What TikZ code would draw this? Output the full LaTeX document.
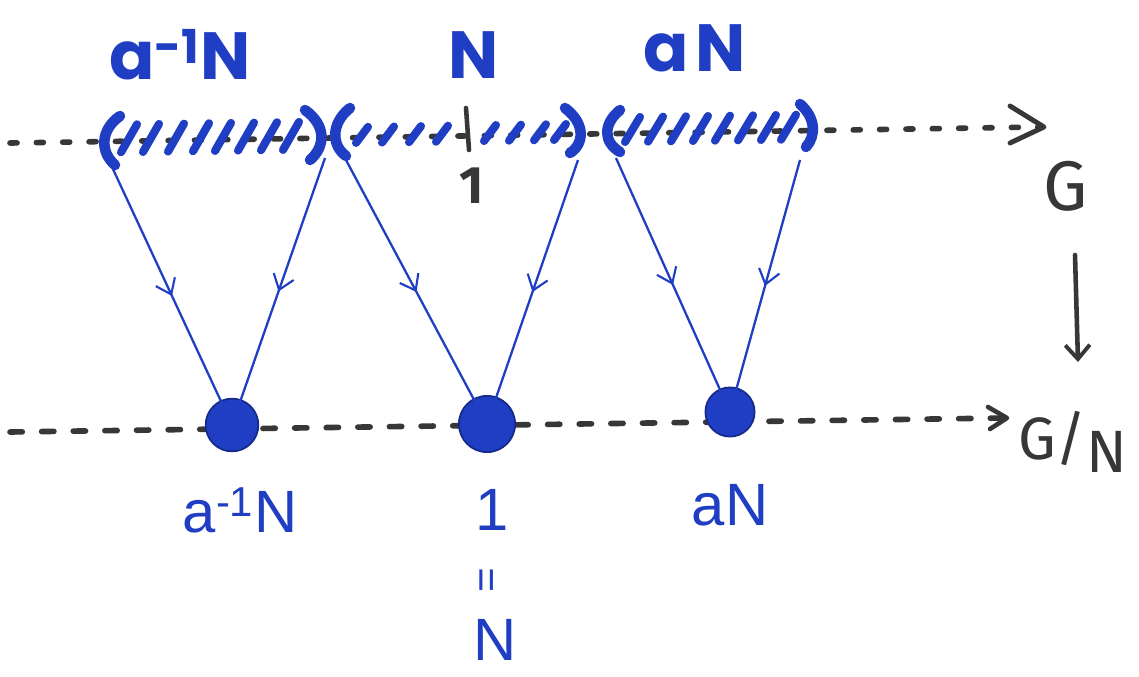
\documentclass[tikz,border=0pt]{standalone}
\usepackage{fontspec}
\setmainfont{Fira Sans}
\newfontfamily\topfont{Poppins}
\newfontfamily\thinfont{Liberation Sans}
\usetikzlibrary{arrows.meta,decorations.markings,calc}
\definecolor{pen}{RGB}{32,62,196}
\definecolor{ink}{RGB}{55,55,55}
\begin{document}
\begin{tikzpicture}[x=0.02cm,y=-0.02cm,
  toplab/.style={text=pen,font=\topfont\bfseries\fontsize{38}{40}\selectfont,inner sep=0pt},
  botlab/.style={text=pen,font=\thinfont\fontsize{34}{38}\selectfont,inner sep=0pt},
  blacklab/.style={text=ink,font=\fontsize{40}{44}\selectfont,inner sep=0pt},
  axis/.style={ink,line width=3.2pt,dash pattern=on 4pt off 11pt,line cap=round},
  hatch/.style={pen,line width=4.6pt,line cap=round},
  brk/.style={pen,line width=6pt,line cap=round},
  dot/.style={circle,fill=pen,draw=pen!70!black,line width=1pt,minimum size=30pt,inner sep=0pt},
  edge/.style={pen,line width=1.3pt,postaction={decorate},
    decoration={markings,mark=at position 0.5 with {\arrow{Straight Barb[length=8pt,width=12pt,line width=1.2pt]}}}}]
\useasboundingbox (0,0) rectangle (1139,676);
\fill[white] (0,0) rectangle (1139,676);

% top axis
\coordinate (L1) at (10,143);
\coordinate (R1) at (1040,127);
\draw[axis] (L1) -- (R1);
\draw[ink,line width=2.8pt,line cap=round,line join=round] (1010,106) -- (1044,127) -- (1010,143);

% hatches
\foreach \x in {128,150,175,200,222,245,268,290}
  \draw[hatch] ({\x-7},{154-0.0145*(\x-10)}) -- ({\x+9},{126-0.0145*(\x-10)});
\foreach \x in {362,388,415,442,490,515,540,560}
  \draw[hatch] ({\x-6},{148-0.0145*(\x-10)}) -- ({\x+6},{132-0.0145*(\x-10)});
\foreach \x in {632,655,678,700,722,745,768,788}
  \draw[hatch] ({\x-7},{151-0.0145*(\x-10)}) -- ({\x+8},{126-0.0145*(\x-10)});

% brackets
\draw[brk] (120,116) .. controls (100,130) and (100,152) .. (115,165);
\draw[brk] (305,110) .. controls (326,125) and (326,146) .. (310,160);
\draw[brk] (350,108) .. controls (330,124) and (332,146) .. (346,156);
\draw[brk] (565,108) .. controls (586,124) and (584,144) .. (570,153);
\draw[brk] (620,110) .. controls (603,124) and (603,142) .. (620,152);
\draw[brk] (800,104) .. controls (816,118) and (816,136) .. (806,147);

% tick and 1
\draw[ink,line width=2.6pt,line cap=round] (466,108) -- (469,150);
\node[blacklab,font=\bfseries\fontsize{30}{34}\selectfont] (one) at (472,186) {1};

% top labels
\node[toplab] (tl1) at (180,55) {a\textsuperscript{-1}N};
\node[toplab] (tl2) at (474,55) {N};
\node[toplab] (tl3) at (695,48) {a\kern0.1em N};

% G and G/N
\node[blacklab] (G) at (1066,186) {G};
\node[blacklab,anchor=east,font=\fontsize{34}{38}\selectfont] (GN) at (1128,442) {G/\raisebox{-0.4ex}{N}};
\coordinate (ga) at (1075,255);
\coordinate (gb) at (1078,362);
\draw[ink,line width=2.6pt,line cap=round,-{Straight Barb[length=8pt,width=14pt,line width=2.2pt]}] (ga) -- (gb);

% bottom axis
\coordinate (L2) at (10,432);
\coordinate (R2) at (1005,418);
\draw[axis,dash pattern=on 7pt off 11pt] (L2) -- (R2);
\draw[ink,line width=2.6pt,line cap=round,line join=round] (988,407) -- (1007,418) -- (990,429);

% dots
\node[dot] (d1) at (232,425) {};
\node[dot,minimum size=32pt] (d2) at (487,424) {};
\node[dot,minimum size=28pt] (d3) at (730,412) {};

% line tops
\coordinate (t1a) at (112,167);
\coordinate (t1b) at (325,158);
\coordinate (t2a) at (346,160);
\coordinate (t2b) at (578,160);
\coordinate (t3a) at (616,158);
\coordinate (t3b) at (800,160);

\draw[edge] (t1a) -- (d1.center);
\draw[edge] (t1b) -- (d1.center);
\draw[edge] (t2a) -- (d2.center);
\draw[edge] (t2b) -- (d2.center);
\draw[edge] (t3a) -- (d3.center);
\draw[edge] (t3b) -- (d3.center);

% bottom labels
\node[botlab] (b1) at (240,510) {a\textsuperscript{-1}N};
\node[botlab] (b2) at (492,510) {1};
\node[botlab,rotate=90,font=\thinfont\fontsize{24}{28}\selectfont] (b3) at (490,580) {=};
\node[botlab] (b4) at (495,640) {N};
\node[botlab] (b5) at (730,505) {aN};
\end{tikzpicture}
\end{document}
